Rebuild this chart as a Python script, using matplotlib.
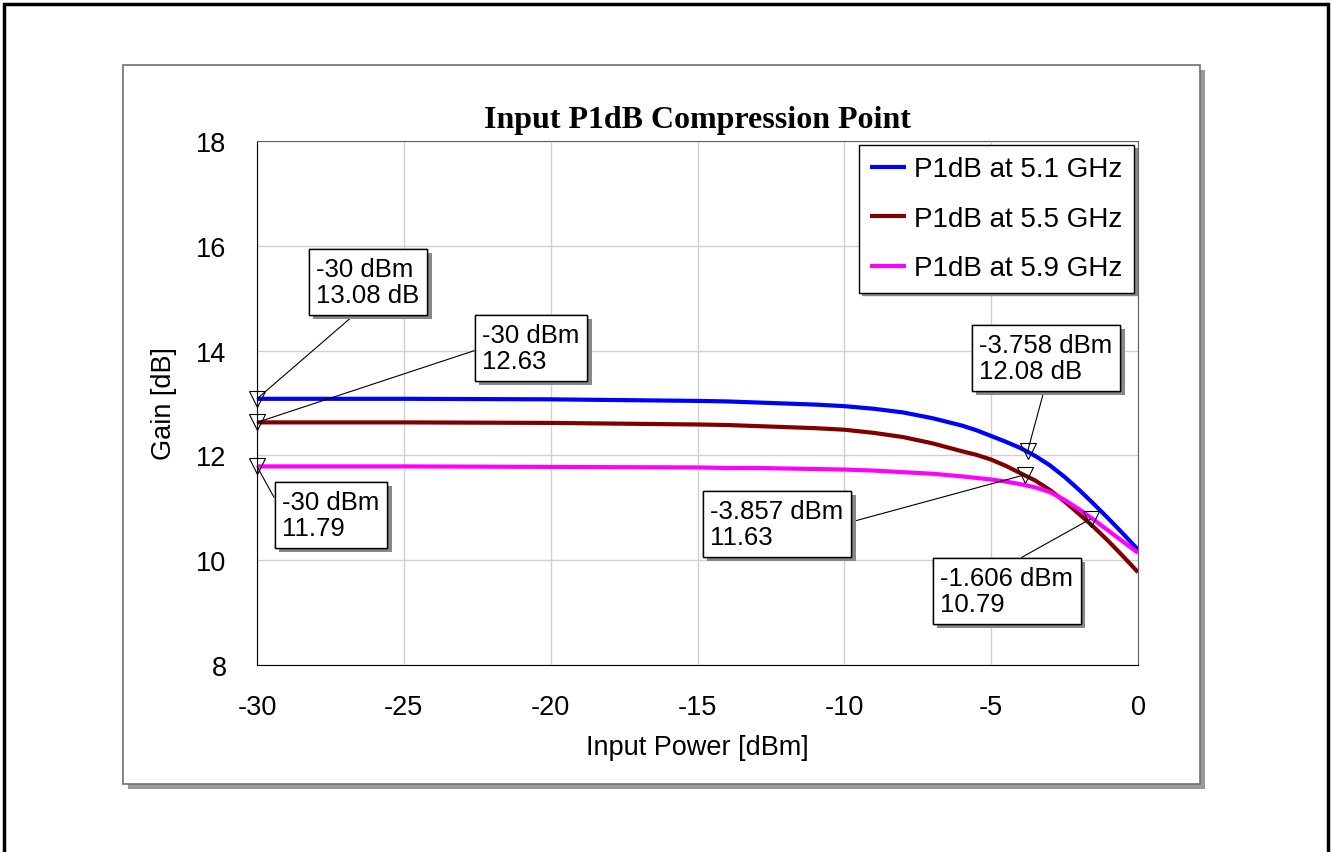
import matplotlib
matplotlib.use("Agg")
import matplotlib.pyplot as plt
from matplotlib.patches import Rectangle
from matplotlib import patheffects as pe

plt.rcParams['font.family'] = ['Liberation Sans', 'DejaVu Sans']
plt.rcParams['axes.unicode_minus'] = False

# Input power sweep (dBm) and gain (dB) for each frequency
pin = [-30, -25, -20, -15, -14, -13, -12, -11, -10, -9, -8, -7, -6, -5.5, -5, -4.5,
       -4, -3.5, -3, -2.5, -2, -1.5, -1, -0.5, 0]
gain_51 = [13.08, 13.08, 13.07, 13.04, 13.03, 13.01, 12.99, 12.97, 12.94, 12.89,
           12.82, 12.71, 12.57, 12.48, 12.37, 12.26, 12.14, 11.99, 11.81, 11.59,
           11.34, 11.07, 10.79, 10.50, 10.20]
gain_55 = [12.63, 12.63, 12.62, 12.59, 12.58, 12.56, 12.54, 12.52, 12.49, 12.43,
           12.35, 12.23, 12.08, 12.01, 11.92, 11.80, 11.66, 11.52, 11.34, 11.12,
           10.88, 10.63, 10.36, 10.07, 9.77]
gain_59 = [11.79, 11.79, 11.78, 11.77, 11.76, 11.76, 11.75, 11.74, 11.73, 11.71,
           11.68, 11.65, 11.60, 11.57, 11.54, 11.50, 11.45, 11.39, 11.30, 11.15,
           10.97, 10.77, 10.56, 10.35, 10.14]

labels = ["P1dB at 5.1 GHz", "P1dB at 5.5 GHz", "P1dB at 5.9 GHz"]
colors = ["#0000ff", "#800000", "#ff00ff"]

# marker points: (pin, gain, text)
markers = [
    (-30, 13.08, "-30 dBm\n13.08 dB"),
    (-30, 12.63, "-30 dBm\n12.63"),
    (-30, 11.79, "-30 dBm\n11.79"),
    (-3.758, 12.08, "-3.758 dBm\n12.08 dB"),
    (-3.857, 11.63, "-3.857 dBm\n11.63"),
    (-1.606, 10.79, "-1.606 dBm\n10.79"),
]
# box centres in figure pixels (from top-left) and where the leader leaves the box
box_pos = [(368, 283), (531, 349), (331, 516), (1046, 359), (777, 525), (1007, 592)]
box_rel = [(0.45, 0.0), (0.0, 0.5), (0.0, 0.55), (0.5, 0.0), (1.0, 0.5), (0.5, 1.0)]

W, H = 1331, 853
fig = plt.figure(figsize=(W / 100, H / 100), dpi=100)

# outer frame
fig.add_artist(Rectangle((4 / W, -0.01), 1324 / W, 1 - 5 / H + 0.01, transform=fig.transFigure,
                         fill=False, edgecolor="black", linewidth=2.5))
# chart panel with drop shadow
px0, py0, px1, py1 = 123, 66, 1200, 785
fig.add_artist(Rectangle(((px0 + 5) / W, 1 - (py1 + 5) / H), (px1 - px0) / W, (py1 - py0) / H,
                         transform=fig.transFigure, facecolor="#999999", edgecolor="none"))
fig.add_artist(Rectangle((px0 / W, 1 - py1 / H), (px1 - px0) / W, (py1 - py0) / H,
                         transform=fig.transFigure, facecolor="white", edgecolor="#707070",
                         linewidth=1.2))

ax = fig.add_axes([257 / W, 1 - 666 / H, (1138 - 257) / W, (666 - 142) / H])
ax.set_zorder(2)

for g, lab, c in zip([gain_51, gain_55, gain_59], labels, colors):
    ax.plot(pin, g, color=c, linewidth=3, label=lab, solid_capstyle="butt",
            solid_joinstyle="round")

for x, y, _ in markers:
    ax.plot(x, y, marker="v", markersize=11, markerfacecolor="none",
            markeredgecolor="black", markeredgewidth=0.8, clip_on=False, zorder=5)

for (x, y, txt), (bx, by), rel in zip(markers, box_pos, box_rel):
    ann = ax.annotate(txt, xy=(x, y), xycoords="data",
                      xytext=(bx, H - by), textcoords="figure pixels",
                      ha="center", va="center", multialignment="left",
                      fontsize=18.5, zorder=6, annotation_clip=False, linespacing=1.15,
                      bbox=dict(boxstyle="square,pad=0.3", facecolor="white",
                                edgecolor="black", linewidth=1),
                      arrowprops=dict(arrowstyle="-", color="black", linewidth=0.8,
                                      shrinkA=0, shrinkB=0, relpos=rel))
    ann.get_bbox_patch().set_path_effects([
        pe.withSimplePatchShadow(offset=(3, -3), shadow_rgbFace="#888888", alpha=1),
        pe.Normal()])

ax.set_xlim(-30, 0)
ax.set_ylim(8, 18)
ax.set_xticks([-30, -25, -20, -15, -10, -5, 0])
ax.set_yticks([8, 10, 12, 14, 16, 18])
ax.tick_params(length=0, labelsize=19.5)
ax.tick_params(axis="y", pad=22)
ax.tick_params(axis="x", pad=21)
ax.grid(True, color="#d0d0d0", linewidth=1)
ax.set_axisbelow(True)
for side in ["top", "right"]:
    ax.spines[side].set_color("#606060")
for side in ["left", "bottom"]:
    ax.spines[side].set_color("black")

ax.set_xlabel("Input Power [dBm]", fontsize=19.5, labelpad=10)
ax.set_ylabel("Gain [dB]", fontsize=19.5, labelpad=14)
ax.set_title("Input P1dB Compression Point", fontsize=23, fontweight="bold",
             family="Liberation Serif", pad=10)

leg = ax.legend(loc="upper right", fontsize=20, fancybox=False, framealpha=1,
                edgecolor="black", handlelength=1.3, handletextpad=0.3,
                labelspacing=0.85, borderaxespad=0.15, borderpad=0.4,
                shadow={"color": "#888888", "alpha": 1})
leg.get_frame().set_linewidth(1)

fig.savefig("out.png", dpi=100)
